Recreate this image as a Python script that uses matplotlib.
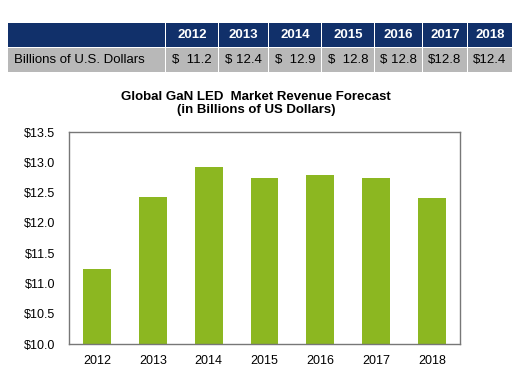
import matplotlib.pyplot as plt
from matplotlib.patches import Rectangle

years = ['2012', '2013', '2014', '2015', '2016', '2017', '2018']
revenue = [11.24, 12.43, 12.92, 12.74, 12.79, 12.74, 12.41]
table_row_label = 'Billions of U.S. Dollars'
table_values = ['$  11.2', '$ 12.4', '$  12.9', '$  12.8', '$ 12.8', '$12.8', '$12.4']
y_ticks = [10.0, 10.5, 11.0, 11.5, 12.0, 12.5, 13.0, 13.5]

W, H = 527, 373
plt.rcParams['font.family'] = ['Liberation Sans', 'DejaVu Sans']

fig = plt.figure(figsize=(W / 100, H / 100), dpi=100)

# table drawn in pixel coords
col_edges = [8, 165, 218, 268, 321, 374, 422, 467, 512]
head_top, head_bot = 23, 47
row_top, row_bot = 48, 72
navy = '#11306a'
gray = '#b8b8b8'


def px(x, y):
    return x / W, 1 - y / H


for i in range(len(col_edges) - 1):
    x0 = col_edges[i] + (1 if i > 0 else 0)
    x1 = col_edges[i + 1]
    for top, bot, col in [(head_top, head_bot, navy), (row_top, row_bot, gray)]:
        fx, fy = px(x0, bot)
        fig.patches.append(Rectangle((fx, fy), (x1 - x0) / W, (bot - top) / H,
                                     transform=fig.transFigure, facecolor=col,
                                     edgecolor='none'))

for i, (yr, val) in enumerate(zip(years, table_values)):
    cx = (col_edges[i + 1] + col_edges[i + 2]) / 2 + 0.5
    fig.text(*px(cx, (head_top + head_bot) / 2), yr, color='white', fontsize=9.5,
             fontweight='bold', ha='center', va='center')
    fig.text(*px(cx, (row_top + row_bot) / 2), val, color='black', fontsize=9.5,
             ha='center', va='center')
fig.text(*px(14, (row_top + row_bot) / 2), table_row_label, color='black',
         fontsize=9.5, ha='left', va='center')

# chart
ax = fig.add_axes([69 / W, 1 - 344 / H, (460 - 69) / W, (344 - 132) / H])
ax.bar(years, revenue, width=0.5, color='#8cb721', zorder=2)
ax.set_ylim(10, 13.5)
ax.set_xlim(-0.5, len(years) - 0.5)
ax.set_yticks(y_ticks)
ax.set_yticklabels(['$%.1f' % v for v in y_ticks])
ax.tick_params(length=0, labelsize=9, pad=10)
ax.tick_params(axis='x', pad=8)
for s in ax.spines.values():
    s.set_color('#777777')
    s.set_linewidth(1)

fig.text(256 / W, 1 - 103.5 / H, 'Global GaN LED  Market Revenue Forecast\n(in Billions of US Dollars)',
         ha='center', va='center', fontsize=9.5, fontweight='bold', linespacing=1.15)

fig.savefig('out.png', dpi=100)
